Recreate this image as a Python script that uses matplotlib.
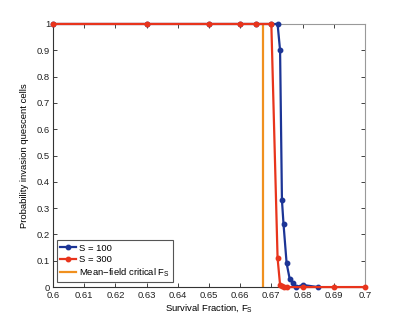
import matplotlib
matplotlib.use('Agg')
import matplotlib.pyplot as plt

# Data
fs_100 = [0.60, 0.63, 0.65, 0.66, 0.665, 0.670, 0.672, 0.6728, 0.6734, 0.6739, 0.6749, 0.6759, 0.6769, 0.678, 0.680, 0.685]
p_100 = [1, 1, 1, 1, 1, 1, 1, 0.90, 0.33, 0.24, 0.09, 0.03, 0.016, 0.0, 0.008, 0.0]

fs_300 = [0.60, 0.63, 0.65, 0.66, 0.665, 0.670, 0.672, 0.6728, 0.6734, 0.674, 0.675, 0.680, 0.690, 0.700]
p_300 = [1, 1, 1, 1, 1, 1, 0.11, 0.008, 0.004, 0.0, 0.0, 0.0, 0.0, 0.0]

fs_critical = 0.6672

x_ticks = [0.6, 0.61, 0.62, 0.63, 0.64, 0.65, 0.66, 0.67, 0.68, 0.69, 0.7]
x_ticklabels = ['0.6', '0.61', '0.62', '0.63', '0.64', '0.65', '0.66', '0.67', '0.68', '0.69', '0.7']
y_ticks = [0, 0.1, 0.2, 0.3, 0.4, 0.5, 0.6, 0.7, 0.8, 0.9, 1]
y_ticklabels = ['0', '0.1', '0.2', '0.3', '0.4', '0.5', '0.6', '0.7', '0.8', '0.9', '1']

plt.rcParams['font.family'] = ['Liberation Sans', 'DejaVu Sans']
plt.rcParams['font.size'] = 6.8

fig = plt.figure(figsize=(4.03, 3.24), dpi=100)
ax = fig.add_axes([0.1315, 0.114, 0.774, 0.812])

ax.plot(fs_100, p_100, color='#1c3596', lw=1.6, marker='o', ms=3.2, label='S = 100', clip_on=False, zorder=3)
ax.plot(fs_300, p_300, color='#e8341c', lw=1.6, marker='o', ms=3.2, label='S = 300', clip_on=False, zorder=3)
ax.plot([fs_critical, fs_critical], [0, 1], color='#f0901e', lw=1.6, label='Mean\u2212field critical F$_\\mathregular{S}$', zorder=2)

ax.set_xlim(0.6, 0.7)
ax.set_ylim(0, 1)
ax.set_xticks(x_ticks)
ax.set_xticklabels(x_ticklabels)
ax.set_yticks(y_ticks)
ax.set_yticklabels(y_ticklabels)
ax.tick_params(direction='in', length=3, width=0.6, pad=2, top=True, right=True, colors='#222222')
ax.tick_params(axis='x', pad=3)
for s in ax.spines.values():
    s.set_color('#999999')
    s.set_linewidth(0.8)
ax.spines['left'].set_color('#333333')
ax.spines['bottom'].set_color('#333333')

ax.set_xlabel('Survival Fraction, F$_\\mathregular{S}$', labelpad=1)
ax.set_ylabel('Probability invasion quescent cells', labelpad=6)

leg = ax.legend(loc='lower left', bbox_to_anchor=(0.013, 0.018), fancybox=False, framealpha=1,
                edgecolor='#555555', handlelength=1.7, handletextpad=0.25, borderpad=0.35,
                borderaxespad=0, labelspacing=0.25, fontsize=6.8)
leg.get_frame().set_linewidth(0.8)

fig.savefig('out.png', dpi=100)
